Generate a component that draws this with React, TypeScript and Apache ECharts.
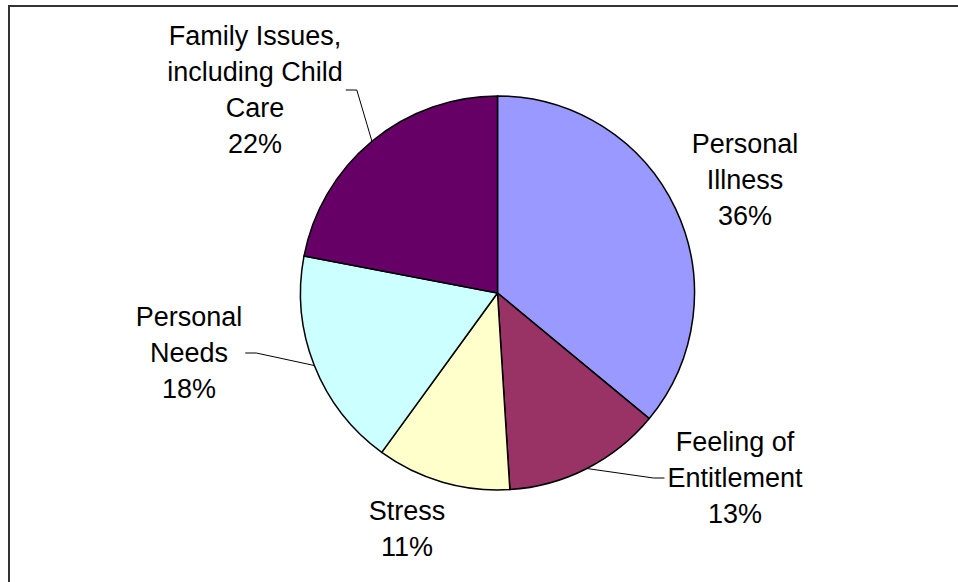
import React, { useEffect, useRef } from "react";
import * as echarts from "echarts";

const categories = [
  "Personal\nIllness",
  "Feeling of\nEntitlement",
  "Stress",
  "Personal\nNeeds",
  "Family Issues,\nincluding Child\nCare",
];
const percents = [36, 13, 11, 18, 22];
const colors = ["#9999FF", "#993366", "#FFFFCC", "#CCFFFF", "#660066"];

// label layout: center of label block, and which side the leader line attaches (0 = none)
const labelCenters: [number, number][] = [
  [745, 180],
  [735, 478],
  [407, 529],
  [189, 353],
  [255, 90],
];
const lineSide = [0, -1, 0, 1, 1]; // -1: line attaches to left edge of label, 1: right edge

export default function App() {
  const ref = useRef<HTMLDivElement>(null);
  useEffect(() => {
    document.body.style.margin = "0";
    const chart = echarts.init(ref.current!, null, { renderer: "svg" });
    chart.setOption({
      animation: false,
      backgroundColor: "#ffffff",
      graphic: [
        {
          type: "rect",
          shape: { x: 9, y: 6, width: 1000, height: 700 },
          style: { fill: "none", stroke: "#333333", lineWidth: 2 },
          silent: true,
          z: -1,
        },
      ],
      series: [
        {
          type: "pie",
          center: [497.5, 293],
          radius: 197,
          startAngle: 90,
          clockwise: true,
          avoidLabelOverlap: false,
          itemStyle: { borderColor: "#000000", borderWidth: 1.5 },
          label: {
            show: true,
            position: "outside",
            fontFamily: "'Liberation Sans', Arial, sans-serif",
            fontSize: 27,
            lineHeight: 36,
            color: "#000000",
            align: "center",
            formatter: (p: any) => `${p.name}\n${p.value}%`,
          },
          labelLine: {
            show: true,
            length: 10,
            length2: 10,
            lineStyle: { color: "#000000", width: 1 },
          },
          emphasis: { disabled: true },
          labelLayout: (params: any) => {
            const i = params.dataIndex;
            const [cx, cy] = labelCenters[i];
            const w = params.labelRect.width;
            const res: any = {
              x: cx,
              y: cy,
              align: "center",
              verticalAlign: "middle",
            };
            const side = lineSide[i];
            if (side !== 0 && params.labelLinePoints) {
              const p0 = params.labelLinePoints[0];
              const endX = cx + side * (w / 2 + 3);
              const kneeX = endX + side * 11;
              res.labelLinePoints = [
                [p0[0], p0[1]],
                [kneeX, cy],
                [endX, cy],
              ];
            }
            return res;
          },
          data: categories.map((name, i) => ({
            name,
            value: percents[i],
            itemStyle: { color: colors[i] },
            labelLine: { show: lineSide[i] !== 0 },
          })),
        },
      ],
    });
    return () => chart.dispose();
  }, []);
  return <div ref={ref} style={{ width: 958, height: 582 }} />;
}
